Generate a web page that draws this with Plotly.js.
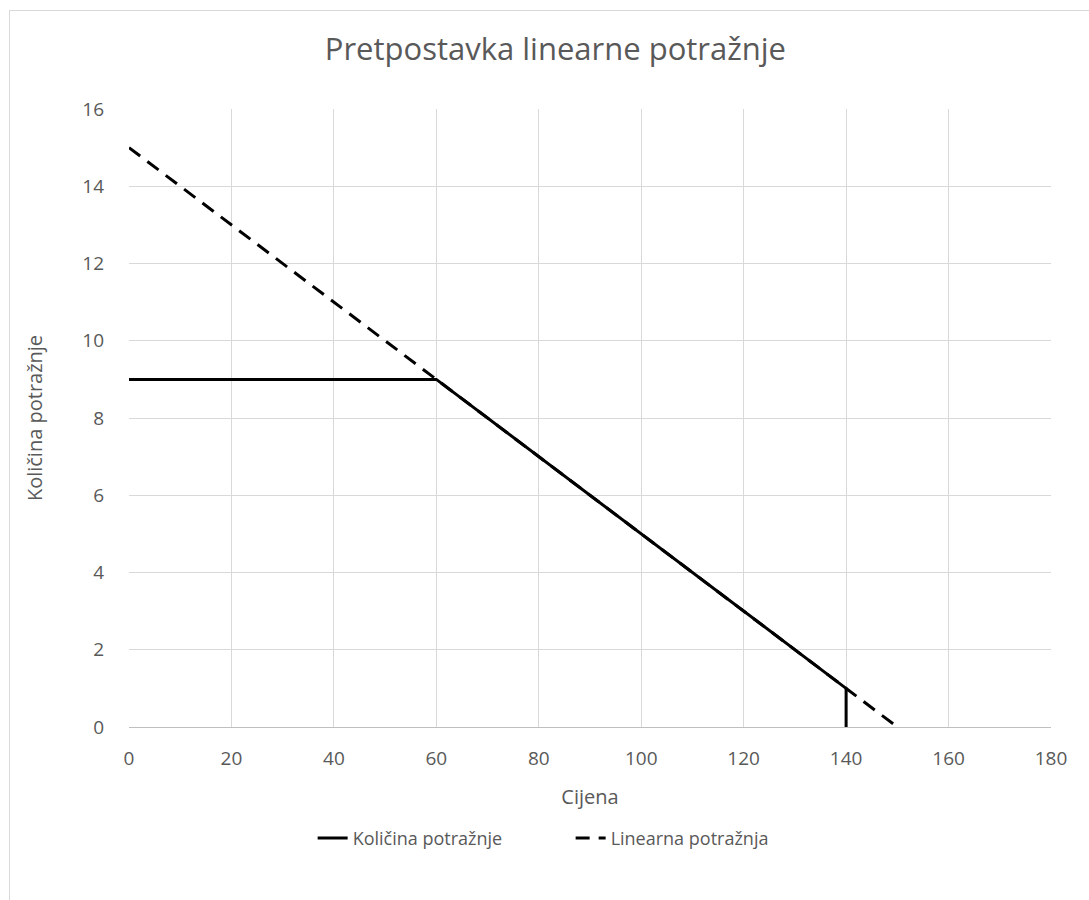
<!DOCTYPE html>
<html>
<head>
<meta charset="utf-8">
<script src="https://cdn.plot.ly/plotly-3.0.1.min.js"></script>
<style>
html,body{margin:0;padding:0;background:#fff;}
#wrap{position:relative;width:1089px;height:900px;}
#chart{width:1089px;height:900px;}
#frame{position:absolute;left:9px;top:10px;width:1100px;height:900px;border:1px solid #d9d9d9;pointer-events:none;box-sizing:border-box;}
</style>
</head>
<body>
<div id="wrap"><div id="chart"></div><div id="frame"></div></div>
<script>
const seriesNames = ["Količina potražnje", "Linearna potražnja"];
const quantityX = [0, 60, 140, 140];
const quantityY = [9, 9, 1, 0];
const linearX = [0, 150];
const linearY = [15, 0];
const xTicks = [0, 20, 40, 60, 80, 100, 120, 140, 160, 180];
const yTicks = [0, 2, 4, 6, 8, 10, 12, 14, 16];

const font = "Open Sans, Noto Sans, sans-serif";
const traces = [
  {x: linearX, y: linearY, mode: "lines", name: seriesNames[1],
   line: {color: "#000", width: 3, dash: "14px,9px"}, legendrank: 2},
  {x: quantityX, y: quantityY, mode: "lines", name: seriesNames[0],
   line: {color: "#000", width: 3}, legendrank: 1}
];
const layout = {
  width: 1089, height: 900,
  margin: {l: 129, r: 38, t: 109, b: 173},
  paper_bgcolor: "#fff", plot_bgcolor: "#fff",
  title: {text: "Pretpostavka linearne potražnje", x: 0.51, xanchor: "center", y: 0.945, yanchor: "middle",
          font: {family: font, size: 31, color: "#595959"}},
  xaxis: {range: [0, 180], tickvals: xTicks, ticktext: xTicks.map(String),
          showgrid: true, gridcolor: "#d9d9d9", gridwidth: 1,
          zeroline: false, showline: true, linecolor: "#bfbfbf", linewidth: 1,
          ticks: "", ticklabelstandoff: 14,
          tickfont: {family: font, size: 19, color: "#595959"},
          title: {text: "Cijena", standoff: 20, font: {family: font, size: 20, color: "#595959"}}},
  yaxis: {range: [0, 16], tickvals: yTicks, ticktext: yTicks.map(String),
          showgrid: true, gridcolor: "#d9d9d9", gridwidth: 1,
          zeroline: false, showline: false, ticks: "", ticklabelstandoff: 24,
          tickfont: {family: font, size: 19, color: "#595959"},
          title: {text: "Količina potražnje", standoff: 34, font: {family: font, size: 20, color: "#595959"}}},
  legend: {orientation: "h", x: 0.479, xanchor: "center", y: -0.18, yanchor: "middle",
           entrywidth: 213, entrywidthmode: "pixels",
           font: {family: font, size: 18, color: "#595959"}, traceorder: "normal"},
  showlegend: true
};
Plotly.newPlot("chart", traces, layout, {displayModeBar: false, staticPlot: true});
</script>
</body>
</html>
